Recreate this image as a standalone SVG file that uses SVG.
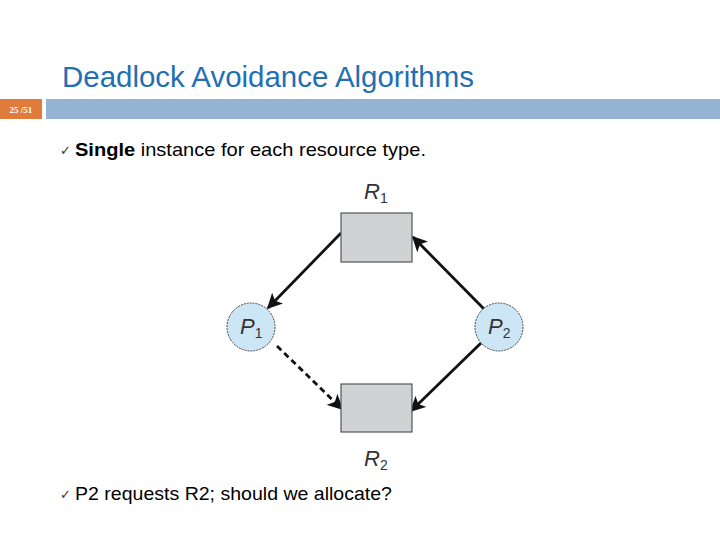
<svg xmlns="http://www.w3.org/2000/svg" width="720" height="540" viewBox="0 0 720 540">
<style>
.title{font-family:"Liberation Sans",Arial,sans-serif;font-size:29px;fill:#1F6FB4}
.body{font-family:"Liberation Sans",Arial,sans-serif;font-size:19px;fill:#000}
.chk{font-family:"DejaVu Sans",sans-serif;font-size:13px;fill:#333}
.lbl{font-family:"Liberation Sans",Arial,sans-serif;font-size:22px;font-style:italic;fill:#333}
.sub{font-family:"Liberation Sans",Arial,sans-serif;font-size:14px;fill:#333}
.res{fill:#D1D2D4;stroke:#555;stroke-width:1.2}
.proc{fill:#CDE6F6;stroke:#444;stroke-width:1;stroke-dasharray:2 1}
.edge{stroke:#111;stroke-width:2.8;fill:none}
</style>
<defs>
<marker id="ah" viewBox="0 0 10 10" refX="9" refY="5" markerWidth="5.5" markerHeight="5.5" orient="auto" markerUnits="strokeWidth">
<path d="M0,0 L10,5 L0,10 L2.5,5 z" fill="#111"/>
</marker>
</defs>
<rect width="720" height="540" fill="#fff"/>
<text class="title" x="62" y="87" textLength="412" lengthAdjust="spacingAndGlyphs">Deadlock Avoidance Algorithms</text>
<rect x="0" y="99" width="42" height="20" fill="#E07B3C"/>
<text x="21" y="113" text-anchor="middle" font-family="Liberation Serif,serif" font-size="9" font-weight="bold" fill="#fff">25 /51</text>
<rect x="46" y="99" width="674" height="20" fill="#95B4D4"/>
<text class="chk" x="60" y="155">✓</text>
<text class="body" x="75" y="156" textLength="351" lengthAdjust="spacingAndGlyphs"><tspan font-weight="bold">Single</tspan> instance for each resource type.</text>
<text class="chk" x="60" y="499">✓</text>
<text class="body" x="75" y="500" textLength="317" lengthAdjust="spacingAndGlyphs">P2 requests R2; should we allocate?</text>
<g id="connectors">
<line class="edge" x1="341" y1="233" x2="268" y2="308" marker-end="url(#ah)"/>
<line class="edge" x1="484" y1="309" x2="413" y2="237" marker-end="url(#ah)"/>
<line class="edge" x1="277" y1="346" x2="342" y2="409" stroke-dasharray="6 4" marker-end="url(#ah)"/>
<line class="edge" x1="481" y1="343" x2="411" y2="411" marker-end="url(#ah)"/>
</g>
<g id="R1">
<rect class="res" x="341" y="213" width="71" height="49"/>
<text class="lbl" x="364" y="199">R<tspan class="sub" font-style="normal" dy="4">1</tspan></text>
</g>
<g id="R2">
<rect class="res" x="341" y="384" width="71" height="48"/>
<text class="lbl" x="364" y="466">R<tspan class="sub" font-style="normal" dy="4">2</tspan></text>
</g>
<g id="P1">
<circle class="proc" cx="251" cy="327" r="24"/>
<text class="lbl" x="240" y="334">P<tspan class="sub" font-style="normal" dy="4">1</tspan></text>
</g>
<g id="P2">
<circle class="proc" cx="499" cy="327" r="24"/>
<text class="lbl" x="488" y="334">P<tspan class="sub" font-style="normal" dy="4">2</tspan></text>
</g>
</svg>
